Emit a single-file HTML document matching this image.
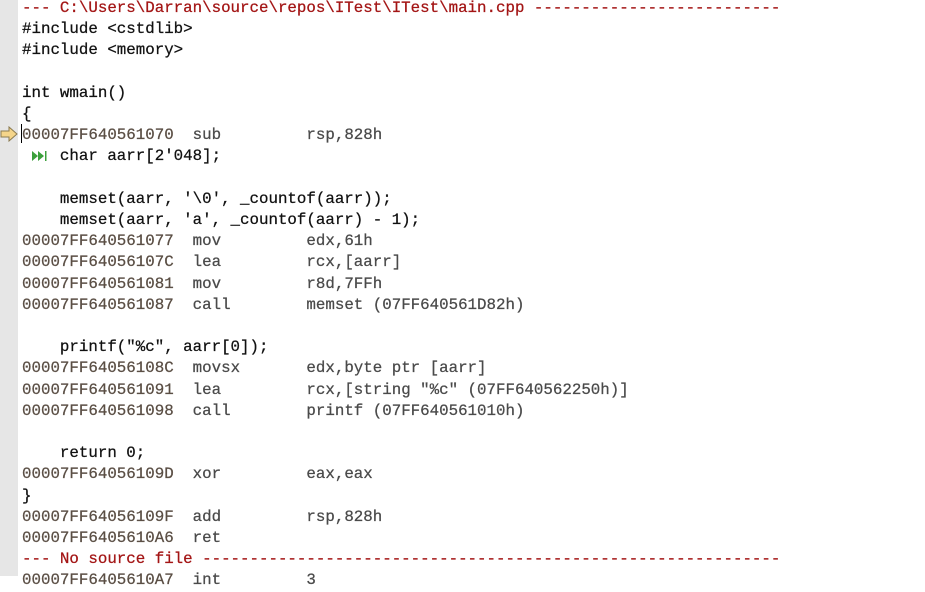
<!DOCTYPE html>
<html><head><meta charset="utf-8"><style>
html,body{margin:0;padding:0;background:#fff;width:925px;height:576px;overflow:hidden}
.g{position:absolute;left:0;top:0;width:18px;height:576px;background:#e6e6e6}
pre{position:absolute;left:22px;top:-2px;margin:0;font-family:"Liberation Mono",monospace;font-size:15.8px;line-height:21.2px;color:#111;white-space:pre;-webkit-text-stroke:0.25px currentColor}
.r{color:#a31515}
.a{color:#5a4e44}
.d{color:#4a4a4a}
.ar{position:absolute;left:0;top:126px}
.cur{position:absolute;left:21px;top:124px;width:1px;height:19px;background:#000}
.st{position:absolute;left:32px;top:150px}
</style></head><body>
<div class="g"></div>
<svg class="ar" width="18" height="16" viewBox="0 0 18 16"><path d="M1 5 H9 V1 L17 8 L9 15 V11 H1 Z" fill="#f5d58a" stroke="#8a7a50" stroke-width="1"/></svg>
<div class="cur"></div>
<svg class="st" width="16" height="12" viewBox="0 0 16 12"><path d="M0 1 L6 6 L0 11Z M6 1 L12 6 L6 11Z" fill="#3ca03c"/><rect x="13" y="1" width="1.5" height="10" fill="#3ca03c"/></svg>
<pre><span class="r">--- C:\Users\Darran\source\repos\ITest\ITest\main.cpp --------------------------</span>
#include &lt;cstdlib&gt;
#include &lt;memory&gt;

int wmain()
{
<span class="a">00007FF640561070</span><span class="d">  sub         rsp,828h</span>
    char aarr[2'048];

    memset(aarr, '\0', _countof(aarr));
    memset(aarr, 'a', _countof(aarr) - 1);
<span class="a">00007FF640561077</span><span class="d">  mov         edx,61h</span>
<span class="a">00007FF64056107C</span><span class="d">  lea         rcx,[aarr]</span>
<span class="a">00007FF640561081</span><span class="d">  mov         r8d,7FFh</span>
<span class="a">00007FF640561087</span><span class="d">  call        memset (07FF640561D82h)</span>

    printf("%c", aarr[0]);
<span class="a">00007FF64056108C</span><span class="d">  movsx       edx,byte ptr [aarr]</span>
<span class="a">00007FF640561091</span><span class="d">  lea         rcx,[string "%c" (07FF640562250h)]</span>
<span class="a">00007FF640561098</span><span class="d">  call        printf (07FF640561010h)</span>

    return 0;
<span class="a">00007FF64056109D</span><span class="d">  xor         eax,eax</span>
}
<span class="a">00007FF64056109F</span><span class="d">  add         rsp,828h</span>
<span class="a">00007FF6405610A6</span><span class="d">  ret</span>
<span class="r">--- No source file -------------------------------------------------------------</span>
<span class="a">00007FF6405610A7</span><span class="d">  int         3</span>
</pre>
</body></html>
